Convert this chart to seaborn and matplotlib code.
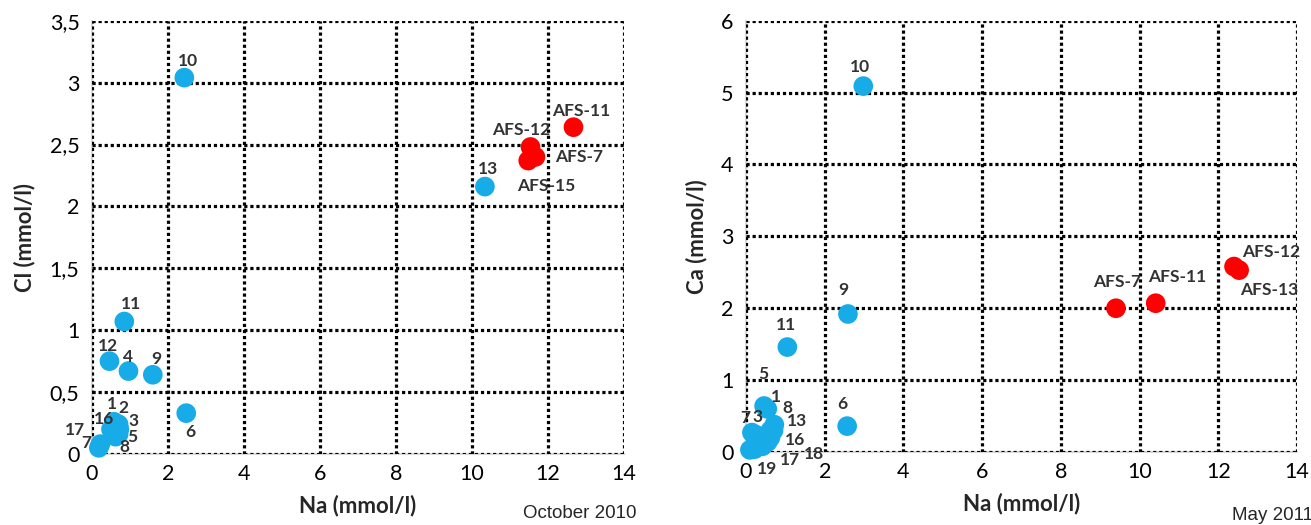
import matplotlib
matplotlib.use("Agg")
import matplotlib.pyplot as plt
import seaborn as sns
import pandas as pd

# ---------------- data: October 2010 (Cl vs Na) ----------------
oct_labels = ["10", "13", "AFS-11", "AFS-12", "AFS-7", "AFS-15", "11", "12", "4", "9", "6",
              "1", "2", "16", "3", "5", "8", "17", "7"]
oct_na = [2.43, 10.34, 12.67, 11.54, 11.67, 11.48, 0.85, 0.46, 0.96, 1.60, 2.48,
          0.58, 0.70, 0.50, 0.72, 0.70, 0.62, 0.22, 0.18]
oct_cl = [3.04, 2.16, 2.64, 2.48, 2.40, 2.37, 1.07, 0.75, 0.67, 0.64, 0.33,
          0.26, 0.24, 0.20, 0.20, 0.16, 0.14, 0.08, 0.05]
oct_group = ["well", "well", "AFS", "AFS", "AFS", "AFS", "well", "well", "well", "well", "well",
             "well", "well", "well", "well", "well", "well", "well", "well"]

# ---------------- data: May 2011 (Ca vs Na) ----------------
may_labels = ["10", "9", "11", "6", "AFS-7", "AFS-11", "AFS-12", "AFS-13",
              "5", "1", "7", "3", "8", "13", "16", "18", "17", "19", "", "", "", ""]
may_na = [2.98, 2.59, 1.05, 2.57, 9.40, 10.41, 12.40, 12.53,
          0.46, 0.54, 0.15, 0.25, 0.72, 0.70, 0.62, 0.55, 0.42, 0.22, 0.10, 0.35, 0.62, 0.30]
may_ca = [5.09, 1.92, 1.46, 0.36, 2.00, 2.07, 2.58, 2.53,
          0.64, 0.60, 0.27, 0.24, 0.38, 0.30, 0.20, 0.14, 0.08, 0.04, 0.03, 0.12, 0.30, 0.20]
may_group = ["well", "well", "well", "well", "AFS", "AFS", "AFS", "AFS"] + ["well"] * 14

# label offsets (pixels) — presentation only
oct_off = {"10": (4, 17), "13": (3, 18), "AFS-11": (8, 16), "AFS-12": (-9, 17), "AFS-7": (44, 0),
           "AFS-15": (18, -25), "11": (7, 18), "12": (-2, 15), "4": (0, 14), "9": (4, 16), "6": (4, -19),
           "1": (-2, 18), "2": (5, 16), "16": (-7, 10), "3": (14, 8), "5": (14, -3), "8": (9, -10),
           "17": (-25, 14), "7": (-13, 5)}
may_off = {"10": (-3, 19), "9": (-5, 24), "11": (-1, 22), "6": (-5, 22), "AFS-7": (1, 26),
           "AFS-11": (22, 26), "AFS-12": (37, 15), "AFS-13": (30, -20),
           "5": (-1, 32), "1": (9, 12), "7": (-7, 15), "3": (2, 18), "8": (13, 17), "13": (23, 9),
           "16": (25, -2), "18": (46, -12), "17": (27, -14), "19": (12, -20)}

BLUE = "#17ABE8"
RED = "#FF0000"

sns.set_style("white")
plt.rcParams["font.family"] = ["Lato", "DejaVu Sans"]

fig = plt.figure(figsize=(13.11, 5.25), dpi=100)
ax1 = fig.add_axes([92 / 1311, 1 - 454 / 525, 532 / 1311, 433.3 / 525])
ax2 = fig.add_axes([746 / 1311, 1 - 452 / 525, 551 / 1311, 431.3 / 525])


def style(ax, ymax, ystep, ylabels, ylabel):
    ax.set_xlim(0, 14)
    ax.set_ylim(0, ymax)
    xt = list(range(0, 15, 2))
    ax.set_xticks(xt)
    ax.set_xticklabels([str(v) for v in xt], fontsize=15.5)
    yt = [i * ystep for i in range(len(ylabels))]
    ax.set_yticks(yt)
    ax.set_yticklabels(ylabels, fontsize=15.5)
    ax.tick_params(axis="x", length=0, pad=7, colors="#000000")
    ax.tick_params(axis="y", length=0, pad=9, colors="#000000")
    ax.grid(True, color="black", linestyle=(0, (1, 0.9)), linewidth=2.3)
    ax.set_axisbelow(True)
    for s in ["top", "right"]:
        ax.spines[s].set_visible(False)
    for s in ["left", "bottom"]:
        ax.spines[s].set_color("#d9d9d9")
        ax.spines[s].set_linewidth(1.5)
        ax.spines[s].set_zorder(0.5)
    ax.set_xlabel("Na (mmol/l)", fontsize=16, fontweight="bold", labelpad=8)
    ax.set_ylabel(ylabel, fontsize=16, fontweight="bold", labelpad=10)


df1 = pd.DataFrame({"Na": oct_na, "Cl": oct_cl, "grp": oct_group, "lab": oct_labels})
df2 = pd.DataFrame({"Na": may_na, "Ca": may_ca, "grp": may_group, "lab": may_labels})

sns.scatterplot(data=df1, x="Na", y="Cl", hue="grp", palette={"well": BLUE, "AFS": RED},
                s=200, edgecolor="none", legend=False, ax=ax1, zorder=3, clip_on=False)
sns.scatterplot(data=df2, x="Na", y="Ca", hue="grp", palette={"well": BLUE, "AFS": RED},
                s=200, edgecolor="none", legend=False, ax=ax2, zorder=3, clip_on=False)

style(ax1, 3.5, 0.5, ["0", "0,5", "1", "1,5", "2", "2,5", "3", "3,5"], "Cl (mmol/l)")
style(ax2, 6, 1, ["0", "1", "2", "3", "4", "5", "6"], "Ca (mmol/l)")

for ax, df, ycol, offs in [(ax1, df1, "Cl", oct_off), (ax2, df2, "Ca", may_off)]:
    for _, r in df.iterrows():
        if not r["lab"]:
            continue
        dx, dy = offs[r["lab"]]
        ax.annotate(r["lab"], (r["Na"], r[ycol]), xytext=(dx, dy), textcoords="offset pixels",
                    ha="center", va="center", fontsize=12.5, fontweight="bold",
                    color="#333333", zorder=4, annotation_clip=False)

fig.text(580 / 1311, 1 - 514 / 525, "October 2010", ha="center", va="center",
         fontsize=13.5, family="Liberation Sans")
fig.text(1272 / 1311, 1 - 515 / 525, "May 2011", ha="center", va="center",
         fontsize=13.5, family="Liberation Sans")

fig.savefig("out.png", dpi=100)
